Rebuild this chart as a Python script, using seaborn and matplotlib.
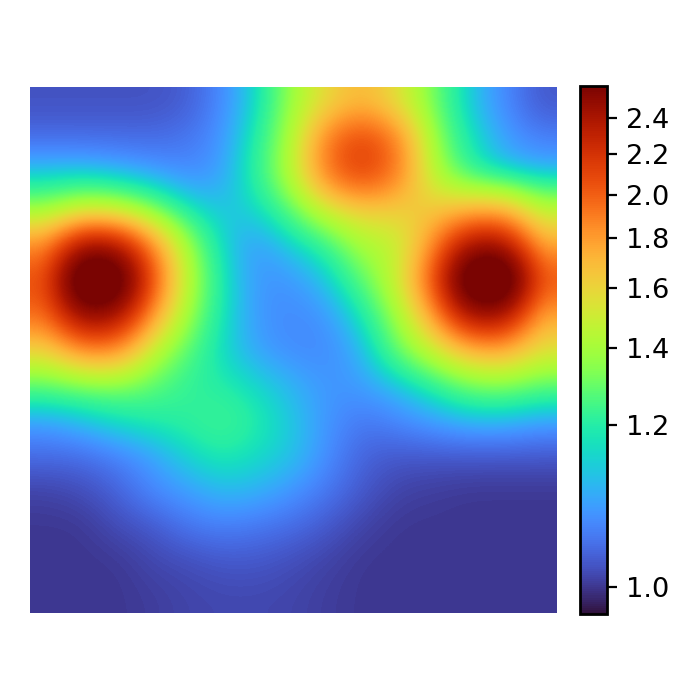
import numpy as np
import pandas as pd
import matplotlib
matplotlib.use("Agg")
import matplotlib.pyplot as plt
from matplotlib.colors import FuncNorm
import seaborn as sns

row00 = [1.025,1.025,1.025,1.025,1.035,1.08,1.16,1.38,1.60,1.72,1.55,1.30,1.14,1.08,1.03]
row01 = [1.05,1.05,1.05,1.05,1.06,1.09,1.20,1.42,1.95,2.15,1.90,1.35,1.18,1.10,1.07]
row02 = [1.14,1.14,1.12,1.10,1.08,1.10,1.22,1.45,1.95,2.15,1.90,1.42,1.22,1.14,1.12]
row03 = [1.35,1.45,1.42,1.30,1.17,1.14,1.16,1.28,1.50,1.62,1.62,1.65,1.70,1.72,1.45]
row04 = [1.85,2.45,2.40,1.85,1.36,1.15,1.09,1.15,1.22,1.42,1.45,1.85,2.45,2.45,1.75]
row05 = [2.05,3.15,3.00,2.05,1.42,1.17,1.09,1.09,1.14,1.28,1.50,2.05,3.05,3.15,2.05]
row06 = [1.95,2.55,2.45,1.80,1.36,1.17,1.09,1.08,1.09,1.18,1.38,1.80,2.45,2.45,1.75]
row07 = [1.60,1.85,1.85,1.45,1.27,1.16,1.10,1.08,1.08,1.12,1.30,1.48,1.70,1.75,1.55]
row08 = [1.27,1.30,1.32,1.28,1.22,1.20,1.16,1.12,1.09,1.10,1.13,1.20,1.30,1.32,1.27]
row09 = [1.10,1.13,1.17,1.20,1.22,1.25,1.20,1.14,1.09,1.06,1.08,1.10,1.12,1.12,1.10]
row10 = [1.05,1.05,1.07,1.10,1.16,1.20,1.17,1.14,1.08,1.04,1.03,1.03,1.03,1.03,1.03]
row11 = [1.01,1.02,1.04,1.08,1.10,1.13,1.12,1.09,1.06,1.03,1.01,1.005,1.00,1.00,1.00]
row12 = [1.00,1.00,1.02,1.03,1.06,1.07,1.06,1.05,1.03,1.01,1.00,1.00,1.00,1.00,1.00]
row13 = [1.00,1.00,1.00,1.015,1.02,1.03,1.03,1.02,1.01,1.00,1.00,1.00,1.00,1.00,1.00]
row14 = [1.00,1.00,1.00,1.005,1.012,1.015,1.015,1.012,1.005,1.00,1.00,1.00,1.00,1.00,1.00]
rows = [row00,row01,row02,row03,row04,row05,row06,row07,row08,row09,row10,row11,row12,row13,row14]

tick_values = [1.0, 1.2, 1.4, 1.6, 1.8, 2.0, 2.2, 2.4]
scale_values = [0.976, 1.0, 1.2, 1.4, 1.6, 1.8, 2.0, 2.2, 2.4, 2.65]
scale_positions = [0.0, 0.052, 0.358, 0.504, 0.617, 0.712, 0.794, 0.872, 0.94, 1.0]

sns.set_style("white")
plt.rcParams["font.family"] = ["DejaVu Sans"]

norm = FuncNorm((lambda v: np.interp(v, scale_values, scale_positions),
                 lambda t: np.interp(t, scale_positions, scale_values)),
                vmin=scale_values[0], vmax=scale_values[-1])
cmap = sns.color_palette("turbo", as_cmap=True)
df = pd.DataFrame(rows)

fig = plt.figure(figsize=(3.5, 3.5), dpi=200)
ax = fig.add_axes([30/700, 87/700, 527/700, 526/700])
cax = fig.add_axes([580/700, 86/700, 26.5/700, 528/700])

sns.heatmap(df, ax=ax, cbar_ax=cax, cmap=cmap, norm=norm,
            xticklabels=False, yticklabels=False)
n = len(rows)
ax.collections[0].set_visible(False)
ax.imshow(df.to_numpy(), cmap=cmap, norm=norm, interpolation="bicubic",
          extent=(0, n, n, 0), aspect="auto")
ax.set_xlim(0, n)
ax.set_ylim(n, 0)
ax.set_axis_off()

cb = ax.collections[0].colorbar
cb.outline.set_visible(True)
cb.outline.set_linewidth(1.0)
cb.outline.set_edgecolor("black")
cb.set_ticks(tick_values, labels=[f"{v:.1f}" for v in tick_values])
cb.minorticks_off()
cax.tick_params(axis="y", which="major", right=True, length=3.5, width=0.8,
                labelsize=9.8, colors="black", pad=3.5)

fig.savefig("out.png", dpi=200)
